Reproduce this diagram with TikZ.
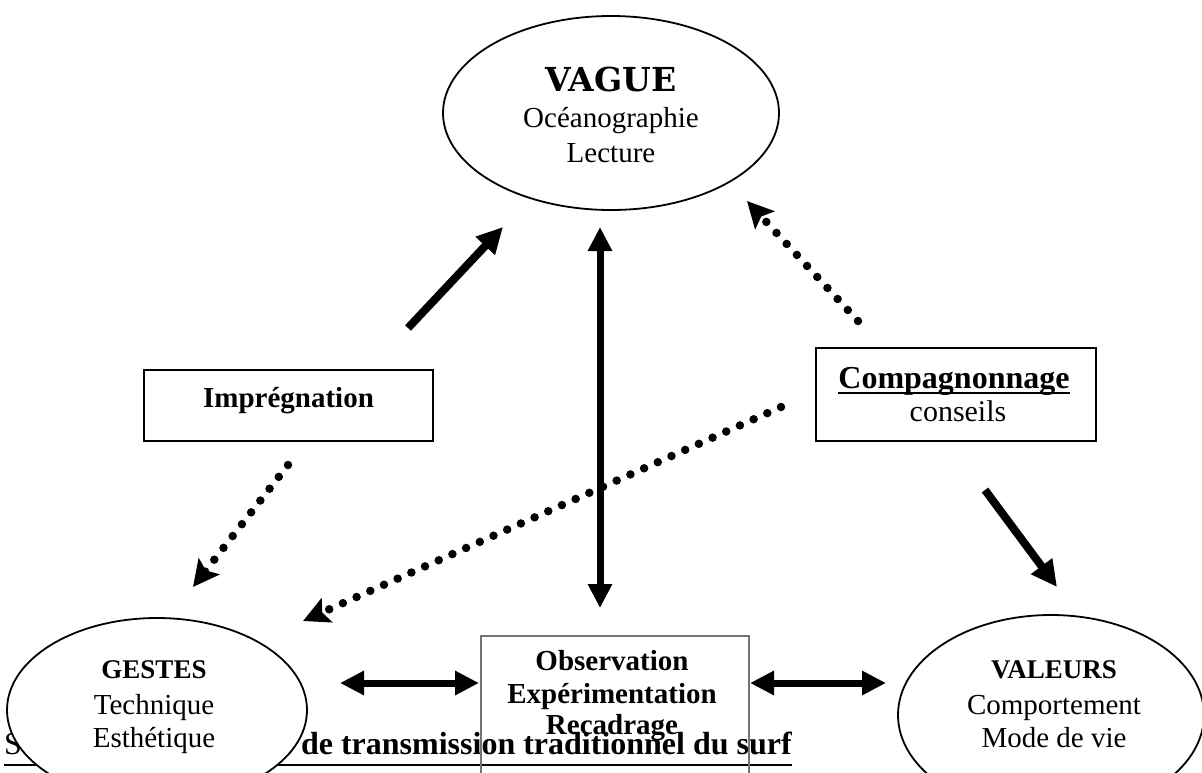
\documentclass[tikz,border=0pt]{standalone}
\usepackage{fontspec}
\setmainfont{Liberation Serif}
\newfontfamily\slabfont{DejaVu Serif}
\usetikzlibrary{arrows.meta,shapes.geometric}
\tikzset{
  txt/.style={anchor=base, inner sep=0pt, font=\fontsize{29}{34}\selectfont},
  btxt/.style={anchor=base, inner sep=0pt, font=\fontsize{29}{34}\selectfont\bfseries},
  stxt/.style={anchor=base, inner sep=0pt, font=\fontsize{27}{32}\selectfont\bfseries},
  oval/.style={ellipse, draw, line width=1.8pt, fill=white, inner sep=0pt},
  frame/.style={draw, line width=1.8pt, inner sep=0pt},
  thinframe/.style={draw=black!55, line width=1.2pt},
  fat/.style={line width=8pt, -{Triangle[length=26pt,width=25pt]}},
  fatboth/.style={line width=7pt, {Triangle[length=24pt,width=23pt]}-{Triangle[length=24pt,width=23pt]}},
  dots/.style={line width=8.5pt, line cap=round, dash pattern=on 0pt off 15pt, -{Stealth[length=26pt,width=26pt,inset=5pt]}},
}
\begin{document}
\begin{tikzpicture}[x=1pt,y=-1pt]
\useasboundingbox (0,0) rectangle (1202,772);
\clip (0,0) rectangle (1202,772);

% VAGUE
\node[oval, minimum width=336pt, minimum height=194pt] (vague) at (611,113) {};
\node[anchor=base, inner sep=0pt, font=\fontsize{33}{38}\selectfont\slabfont\bfseries] (vagueA) at (611,91) {VAGUE};
\node[txt] (vagueB) at (611,127) {Océanographie};
\node[txt] (vagueC) at (611,162) {Lecture};

% Imprégnation
\node[frame, minimum width=289pt, minimum height=71pt] (impr) at (288.5,405.5) {};
\node[btxt] (imprT) at (288.5,407) {Imprégnation};

% Compagnonnage
\node[frame, minimum width=280pt, minimum height=93pt] (comp) at (956,394.5) {};
\node[anchor=base, inner sep=0pt, font=\fontsize{32}{36}\selectfont\bfseries] (compT) at (954,388) {Compagnonnage};
\draw[line width=1.5pt] ([yshift=-5pt]compT.base west) -- ([yshift=-5pt]compT.base east);
\node[anchor=base, inner sep=0pt, font=\fontsize{30}{34}\selectfont] (compS) at (958,421) {conseils};

% caption
\node[anchor=base west, inner sep=0pt, font=\fontsize{32}{37}\selectfont] (capA) at (4,754) {S};
\node[anchor=base east, inner sep=0pt, font=\fontsize{32}{37}\selectfont\bfseries] (capB) at (792,754) {s de transmission traditionnel du surf};
\draw[line width=2pt] ([yshift=-11pt]capA.base west) -- ([yshift=-11pt]capB.base east);

% Observation box (open at bottom of page)
\draw[thinframe] (481,800) -- (481,636) -- (749,636) -- (749,800);
\node[btxt] (obsA) at (612,670) {Observation};
\node[btxt] (obsB) at (612,703) {Expérimentation};
\node[btxt] (obsC) at (612,734) {Recadrage};

% GESTES
\node[oval, minimum width=300pt, minimum height=184pt] (gestes) at (157,710) {};
\node[stxt] (gestesA) at (154,678) {GESTES};
\node[txt] (gestesB) at (154,714) {Technique};
\node[txt] (gestesC) at (154,747) {Esthétique};

% VALEURS
\node[oval, minimum width=306pt, minimum height=200pt] (valeurs) at (1051,715) {};
\node[stxt] (valeursA) at (1054,678) {VALEURS};
\node[txt] (valeursB) at (1054,714) {Comportement};
\node[txt] (valeursC) at (1054,747) {Mode de vie};

% connector end points
\coordinate (a1s) at (408,328);  \coordinate (a1e) at (503,227);
\coordinate (a2s) at (600,227);  \coordinate (a2e) at (600,608);
\coordinate (a3s) at (858,321);  \coordinate (a3e) at (747,201);
\coordinate (a4s) at (781,407);  \coordinate (a4e) at (303,621);
\coordinate (a5s) at (288,465);  \coordinate (a5e) at (193,587);
\coordinate (a6s) at (985,490);  \coordinate (a6e) at (1057,587);
\coordinate (a7s) at (340,683);  \coordinate (a7e) at (479,683);
\coordinate (a8s) at (750,683);  \coordinate (a8e) at (886,683);

\draw[fat] (a1s) -- (a1e);
\draw[fatboth] (a2s) -- (a2e);
\draw[dots] (a3s) -- (a3e);
\draw[dots] (a4s) -- (a4e);
\draw[dots] (a5s) -- (a5e);
\draw[fat] (a6s) -- (a6e);
\draw[fatboth] (a7s) -- (a7e);
\draw[fatboth] (a8s) -- (a8e);
\end{tikzpicture}
\end{document}
